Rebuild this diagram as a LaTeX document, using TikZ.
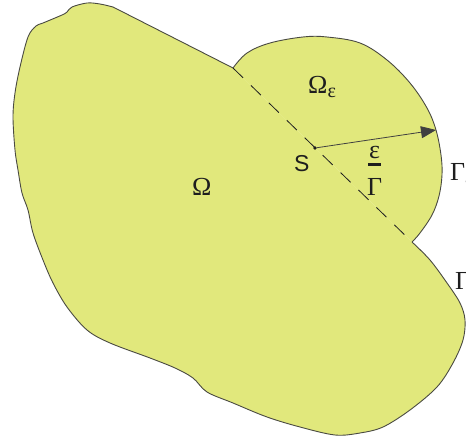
\documentclass[tikz,border=0pt]{standalone}
\usepackage{fontspec}
\setmainfont{Liberation Serif}
\setsansfont{Liberation Sans}
\usepackage{tikz}
\usetikzlibrary{arrows.meta, positioning}
\definecolor{domainfill}{HTML}{E1E87C}
\definecolor{edgegray}{HTML}{4A4A42}
\definecolor{dark}{HTML}{1E1E1E}
\newcommand{\thickbar}[1]{\setbox0\hbox{#1}\vbox{\hbox to\wd0{\hss\rule{0.85\wd0}{3pt}\hss}\kern2.5pt\box0}}
\tikzset{
    domainarea/.style={
        fill=domainfill, draw=edgegray, line width=0.9pt, line join=round
    },
    cutline/.style={
        draw=dark, line width=0.8pt, dash pattern=on 14pt off 11pt
    },
    radiusarrow/.style={
        -{Triangle[length=15pt, width=12pt]}, line width=0.8pt, color=dark!85
    },
    greeklab/.style={
        font=\fontsize{26}{28}\selectfont, text=dark, inner sep=0pt, anchor=base west
    },
    pointlab/.style={
        font=\sffamily\fontsize{23}{25}\selectfont, text=dark, inner sep=0pt
    },
    centerdot/.style={
        circle, fill=dark, inner sep=0pt, minimum size=3.6pt
    },
}

\begin{document}
\begin{tikzpicture}[x=1pt, y=-1pt]
    \useasboundingbox (0,0) rectangle (466,441);
    \clip (0,0) rectangle (466,441);

    \coordinate (jtop) at (233,68);
    \coordinate (jbot) at (412,242);
    \coordinate (tip) at (436,130);

    % main domain, open along the cut
    \filldraw[domainarea] plot[smooth, tension=0.55] coordinates {
        (jbot) (430,260) (447,283) (460,303) (465,320) (463,340) (453,363) (437,387)
        (410,410) (383,427) (360,433) (335,435) (300,427) (267,417) (233,403) (207,392)
        (193,378) (175,368) (150,358) (110,343) (87,330) (67,307) (53,283) (43,260)
        (33,233) (28,210) (22,193) (18,170) (15,150) (13,117) (15,93) (20,67) (28,37)
        (36,26) (43,23) (62,15) (67,12) (72,7) (87,3) (100,4) (113,7)} -- (jtop);

    % small disc around S
    \filldraw[domainarea] plot[smooth, tension=0.6] coordinates {
        (jtop) (247,53) (270,43) (303,37) (327,37) (360,43) (387,60) (410,83)
        (427,108) (tip) (441,155) (442,175) (439,196) (432,215) (420,233) (jbot)};

    \draw[cutline] (jtop) -- (jbot);

    \node[centerdot] (spt) at (315,148) {};
    \node[pointlab, below left=6pt and 4pt of spt] (slab) {S};
    \draw[radiusarrow] (spt) -- (tip);

    \node[greeklab] (omega) at (192,196) {Ω};
    \node[greeklab] (omegaeps) at (308,94) {Ω\raisebox{-4pt}{\fontsize{20}{20}\selectfont ε}};
    \node[greeklab] (epslab) at (369,159) {ε};
    \node[greeklab] (gammabar) at (367,196) {\thickbar{Γ}};
    \node[greeklab] (gammaeps) at (450,181) {Γ\raisebox{-4pt}{\fontsize{20}{20}\selectfont ε}};
    \node[greeklab] (gamma) at (455,289) {Γ};
\end{tikzpicture}
\end{document}
